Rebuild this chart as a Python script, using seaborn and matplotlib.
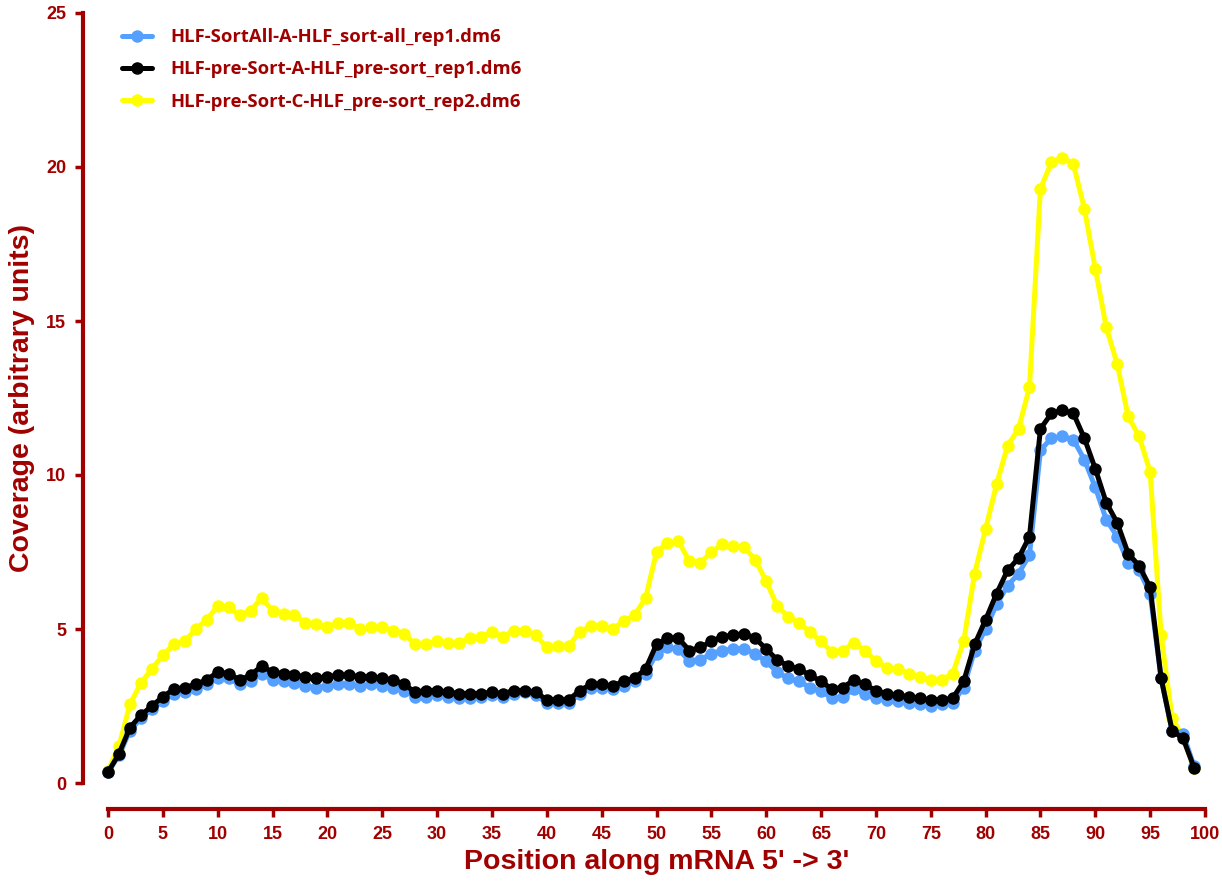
import numpy as np
import pandas as pd
import matplotlib
matplotlib.use('Agg')
import matplotlib.pyplot as plt
import seaborn as sns

position = list(range(100))

sort_all_rep1 = [0.35, 0.9, 1.7, 2.1, 2.4, 2.65, 2.9, 2.95, 3.05, 3.2,
                 3.4, 3.4, 3.2, 3.3, 3.55, 3.35, 3.3, 3.25, 3.15, 3.1,
                 3.15, 3.2, 3.2, 3.15, 3.2, 3.15, 3.1, 3.0, 2.8, 2.8,
                 2.85, 2.8, 2.75, 2.75, 2.8, 2.85, 2.8, 2.9, 2.95, 2.85,
                 2.6, 2.6, 2.6, 2.9, 3.1, 3.1, 3.05, 3.15, 3.3, 3.55,
                 4.2, 4.4, 4.35, 3.95, 4.0, 4.2, 4.3, 4.35, 4.35, 4.2,
                 3.95, 3.6, 3.4, 3.3, 3.1, 3.0, 2.75, 2.8, 3.05, 2.9,
                 2.75, 2.7, 2.65, 2.6, 2.55, 2.5, 2.55, 2.6, 3.1, 4.3,
                 5.0, 5.8, 6.4, 6.8, 7.4, 10.8, 11.2, 11.25, 11.15, 10.5,
                 9.6, 8.55, 8.0, 7.15, 6.9, 6.15, 3.4, 1.7, 1.6, 0.55]

pre_sort_rep1 = [0.35, 0.95, 1.8, 2.2, 2.5, 2.8, 3.05, 3.1, 3.2, 3.35,
                 3.6, 3.55, 3.35, 3.5, 3.8, 3.6, 3.55, 3.5, 3.45, 3.4,
                 3.45, 3.5, 3.5, 3.45, 3.45, 3.4, 3.35, 3.2, 2.95, 3.0,
                 3.0, 2.95, 2.9, 2.9, 2.9, 2.95, 2.9, 3.0, 3.0, 2.95,
                 2.7, 2.7, 2.7, 3.0, 3.2, 3.2, 3.15, 3.3, 3.4, 3.7,
                 4.5, 4.7, 4.7, 4.3, 4.4, 4.6, 4.75, 4.8, 4.85, 4.7,
                 4.35, 4.0, 3.8, 3.7, 3.5, 3.3, 3.05, 3.1, 3.35, 3.2,
                 3.0, 2.9, 2.85, 2.8, 2.75, 2.7, 2.7, 2.75, 3.3, 4.5,
                 5.3, 6.15, 6.9, 7.3, 8.0, 11.5, 12.0, 12.1, 12.0, 11.2,
                 10.2, 9.1, 8.45, 7.45, 7.05, 6.35, 3.4, 1.7, 1.45, 0.5]

pre_sort_rep2 = [0.4, 1.2, 2.55, 3.25, 3.7, 4.15, 4.5, 4.6, 5.0, 5.3,
                 5.75, 5.7, 5.45, 5.6, 6.0, 5.6, 5.5, 5.45, 5.2, 5.15,
                 5.05, 5.2, 5.2, 5.0, 5.05, 5.05, 4.95, 4.85, 4.5, 4.5,
                 4.6, 4.55, 4.55, 4.7, 4.75, 4.9, 4.75, 4.95, 4.95, 4.8,
                 4.4, 4.45, 4.45, 4.9, 5.1, 5.1, 5.0, 5.25, 5.45, 6.0,
                 7.5, 7.8, 7.85, 7.2, 7.15, 7.5, 7.75, 7.7, 7.65, 7.25,
                 6.55, 5.75, 5.4, 5.2, 4.9, 4.6, 4.25, 4.3, 4.55, 4.3,
                 3.95, 3.75, 3.7, 3.55, 3.45, 3.35, 3.35, 3.55, 4.6, 6.8,
                 8.25, 9.7, 10.95, 11.5, 12.85, 19.3, 20.15, 20.3, 20.1, 18.65,
                 16.7, 14.8, 13.6, 11.9, 11.25, 10.1, 4.8, 2.1, 1.5, 0.5]

names = ['HLF-SortAll-A-HLF_sort-all_rep1.dm6',
         'HLF-pre-Sort-A-HLF_pre-sort_rep1.dm6',
         'HLF-pre-Sort-C-HLF_pre-sort_rep2.dm6']
colors = ['#55A0FF', '#000000', '#FFFF00']

df = pd.DataFrame({
    'position': position * 3,
    'coverage': sort_all_rep1 + pre_sort_rep1 + pre_sort_rep2,
    'sample': [names[0]] * 100 + [names[1]] * 100 + [names[2]] * 100,
})

red = '#A00000'
sns.set_style('white')
plt.rcParams['font.family'] = ['Liberation Sans Narrow', 'Liberation Sans', 'DejaVu Sans']

fig = plt.figure(figsize=(12.22, 8.83), dpi=100)
ax = fig.add_axes([108 / 1222, 100 / 883, 1097 / 1222, 770 / 883])

# yellow at the back, black on top
draw_order = [names[2], names[0], names[1]]
sns.lineplot(data=df, x='position', y='coverage', hue='sample', hue_order=draw_order,
             palette=dict(zip(names, colors)), marker='o', markersize=9,
             markeredgewidth=0, linewidth=3.6, ax=ax, clip_on=False)

ax.set_xlim(0, 100)
ax.set_ylim(0, 25)
ax.set_xticks(range(0, 101, 5))
ax.set_yticks(range(0, 26, 5))

for side in ['top', 'right']:
    ax.spines[side].set_visible(False)
ax.spines['left'].set_position(('outward', 18))
ax.spines['bottom'].set_position(('outward', 19))
for side in ['left', 'bottom']:
    ax.spines[side].set_color(red)
    ax.spines[side].set_linewidth(3)
ax.tick_params(axis='both', colors=red, width=2.5, length=6, direction='out',
               labelsize=13, pad=6)
ax.tick_params(axis='x', bottom=True)
ax.tick_params(axis='y', left=True)
for lab in ax.get_xticklabels() + ax.get_yticklabels():
    lab.set_fontweight('bold')

ax.set_xlabel("Position along mRNA 5' -> 3'", fontsize=20.5, fontweight='bold',
              color=red, labelpad=4, family=['Liberation Sans', 'DejaVu Sans'])
ax.set_ylabel('Coverage (arbitrary units)', fontsize=20.5, fontweight='bold',
              color=red, labelpad=8, family=['Liberation Sans', 'DejaVu Sans'])

handles, labels = ax.get_legend_handles_labels()
lookup = dict(zip(labels, handles))
leg = ax.legend([lookup[n] for n in names], names, loc='upper left',
                bbox_to_anchor=(-0.002, 1.002), frameon=False, handlelength=1.6,
                handletextpad=1.0, labelspacing=0.78,
                prop={'family': 'Open Sans', 'weight': 'bold', 'size': 13.3})
for t in leg.get_texts():
    t.set_color(red)

fig.savefig('out.png', dpi=100)
